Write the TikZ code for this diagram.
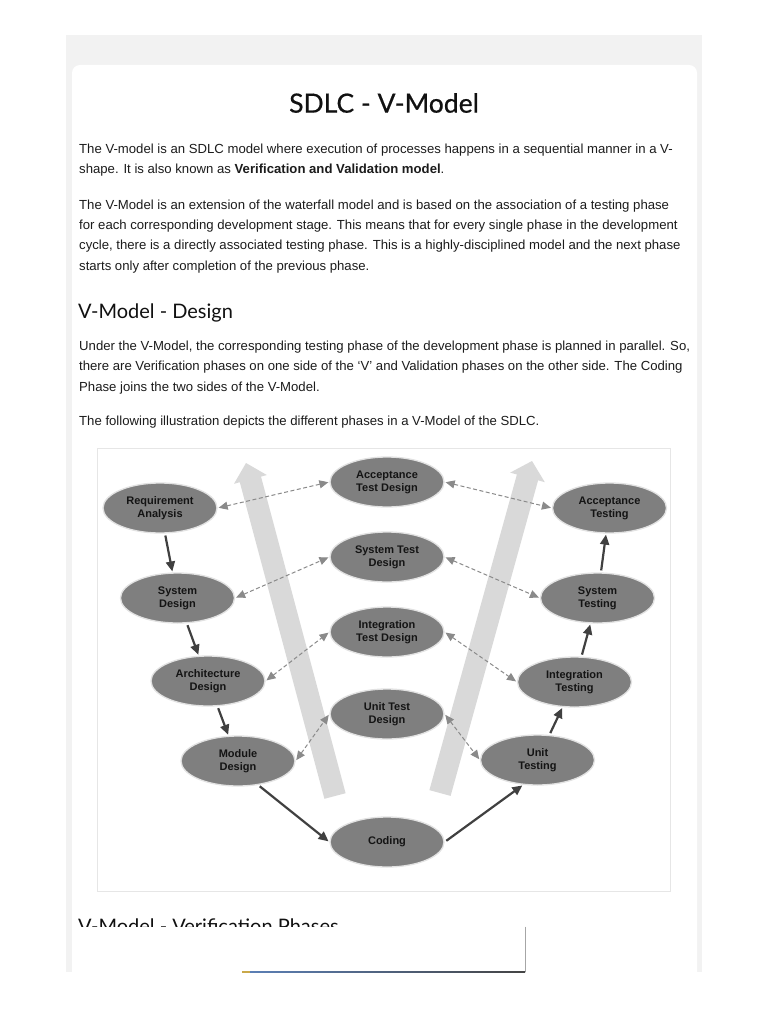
\documentclass[tikz,border=0pt]{standalone}
\usepackage{fontspec}
\setmainfont{Liberation Sans}
\newfontfamily\lato{Lato}
\newfontfamily\latobold[FakeBold=0.5]{Lato}
\usetikzlibrary{shapes.geometric,arrows.meta}
\definecolor{panelgray}{HTML}{F2F2F2}
\definecolor{bodytxt}{HTML}{1C1C1C}
\definecolor{titletxt}{HTML}{111111}
\definecolor{ellgray}{HTML}{7F7F7F}
\definecolor{halo}{HTML}{E2E2E2}
\definecolor{ringtxt}{HTML}{141414}
\definecolor{arrdark}{HTML}{404040}
\definecolor{dashgray}{HTML}{8A8A8A}
\definecolor{bigarrow}{HTML}{D9D9D9}
\definecolor{figborder}{HTML}{E6E6E6}
\definecolor{adblue}{HTML}{5B7FB5}
\definecolor{addark}{HTML}{444444}
\definecolor{adyellow}{HTML}{C9A84A}
\begin{document}
\begin{tikzpicture}[x=1pt,y=-1pt,
  body/.style={anchor=base west, inner sep=0pt, font=\fontsize{13.15}{15}\selectfont, text=bodytxt},
  phase/.style={ellipse, fill=ellgray, draw=halo, line width=1.3pt, minimum width=114pt, minimum height=50pt,
     inner sep=0pt, align=center, font=\fontsize{11}{13}\selectfont\bfseries, text=ringtxt},
  flow/.style={draw=arrdark, line width=2.2pt, -{Triangle[length=10pt,width=9pt]}, shorten >=1pt, shorten <=2pt},
  link/.style={draw=dashgray, line width=1pt, dash pattern=on 4pt off 2.5pt,
     {Triangle[length=9pt,width=8pt]}-{Triangle[length=9pt,width=8pt]}, shorten >=1pt, shorten <=1pt}
]
\useasboundingbox (0,0) rectangle (768,1024);
\fill[white] (0,0) rectangle (768,1024);
% page panel and card
\fill[panelgray] (66,35) rectangle (702,972);
\fill[white, rounded corners=8pt] (72,65) rectangle (697,1000);
\fill[white] (60,972) rectangle (710,1024);

% title
\node[font=\latobold\fontsize{26.5}{32}\selectfont, text=titletxt, inner sep=0pt] (title) at (384,103) {SDLC - V-Model};

% paragraphs
\node[body] (p1a) at (79,153.5) {The V-model is an SDLC model where execution of processes happens in a sequential manner in a V-};
\node[body] (p1b) at (79,173.5) {shape. It is also known as \textbf{Verification and Validation model}.};
\node[body] (p2a) at (79,209.5) {The V-Model is an extension of the waterfall model and is based on the association of a testing phase};
\node[body] (p2b) at (79,229.5) {for each corresponding development stage. This means that for every single phase in the development};
\node[body] (p2c) at (79,249.5) {cycle, there is a directly associated testing phase. This is a highly-disciplined model and the next phase};
\node[body] (p2d) at (79,270.5) {starts only after completion of the previous phase.};
\node[anchor=base west, inner sep=0pt, font=\lato\fontsize{20}{24}\selectfont, text=titletxt] (h1) at (78,318) {V-Model - Design};
\node[body] (p3a) at (79,350.5) {Under the V-Model, the corresponding testing phase of the development phase is planned in parallel. So,};
\node[body] (p3b) at (79,370.5) {there are Verification phases on one side of the ‘V’ and Validation phases on the other side. The Coding};
\node[body] (p3c) at (79,391.5) {Phase joins the two sides of the V-Model.};
\node[body] (p4) at (79,425.5) {The following illustration depicts the different phases in a V-Model of the SDLC.};

% figure frame
\draw[figborder, line width=1pt] (97,448) rectangle (670,891);

% big light arrows
\fill[bigarrow] (324.4,798.8) -- (239.8,482.2) -- (234.0,483.8) -- (246,463) -- (266.8,475.0) -- (261.0,476.6) -- (345.6,793.2) -- cycle;
\fill[bigarrow] (429.4,790.1) -- (516.9,474.5) -- (510.2,472.6) -- (532,461) -- (544.8,482.2) -- (538.1,480.3) -- (450.6,795.9) -- cycle;

% phases
\node[phase] (req) at (160,508) {Requirement\\Analysis};
\node[phase] (sysd) at (177.5,598) {System\\Design};
\node[phase] (arch) at (208,681) {Architecture\\Design};
\node[phase] (mod) at (238,761) {Module\\Design};
\node[phase] (coding) at (387,842) {Coding};
\node[phase] (unitt) at (537.5,760) {Unit\\Testing};
\node[phase] (intt) at (574.5,682) {Integration\\Testing};
\node[phase] (syst) at (597.5,598) {System\\Testing};
\node[phase] (acct) at (609.5,508) {Acceptance\\Testing};
\node[phase] (acctd) at (387,482) {Acceptance\\Test Design};
\node[phase] (systd) at (387,557) {System Test\\Design};
\node[phase] (inttd) at (387,632) {Integration\\Test Design};
\node[phase] (unittd) at (387,714) {Unit Test\\Design};

% solid flow arrows
\draw[flow] (req) -- (sysd);
\draw[flow] (sysd) -- (arch);
\draw[flow] (arch) -- (mod);
\draw[flow] (mod.-50) -- (coding.west);
\draw[flow] (coding.east) -- (unitt.-120);
\draw[flow] (unitt) -- (intt);
\draw[flow] (intt) -- (syst);
\draw[flow] (syst) -- (acct);

% dashed links
\draw[link] (req.east) -- (acctd.west);
\draw[link] (sysd.east) -- (systd.west);
\draw[link] (arch.east) -- (inttd.west);
\draw[link] (mod.east) -- (unittd.west);
\draw[link] (acctd.east) -- (acct.west);
\draw[link] (systd.east) -- (syst.west);
\draw[link] (inttd.east) -- (intt.west);
\draw[link] (unittd.east) -- (unitt.west);

% clipped heading at the bottom
\begin{scope}
\clip (72,900) rectangle (697,926.5);
\node[anchor=base west, inner sep=0pt, font=\lato\fontsize{20}{24}\selectfont, text=titletxt] (h2) at (78,933) {V-Model - Verification Phases};
\end{scope}
% overlay box edges
\draw[gray!70, line width=0.8pt] (525,926.5) -- (525,972);
\shade[left color=adblue, right color=addark] (250,971) rectangle (525,972.8);
\fill[adyellow] (242,971) rectangle (250,972.8);
\end{tikzpicture}
\end{document}
